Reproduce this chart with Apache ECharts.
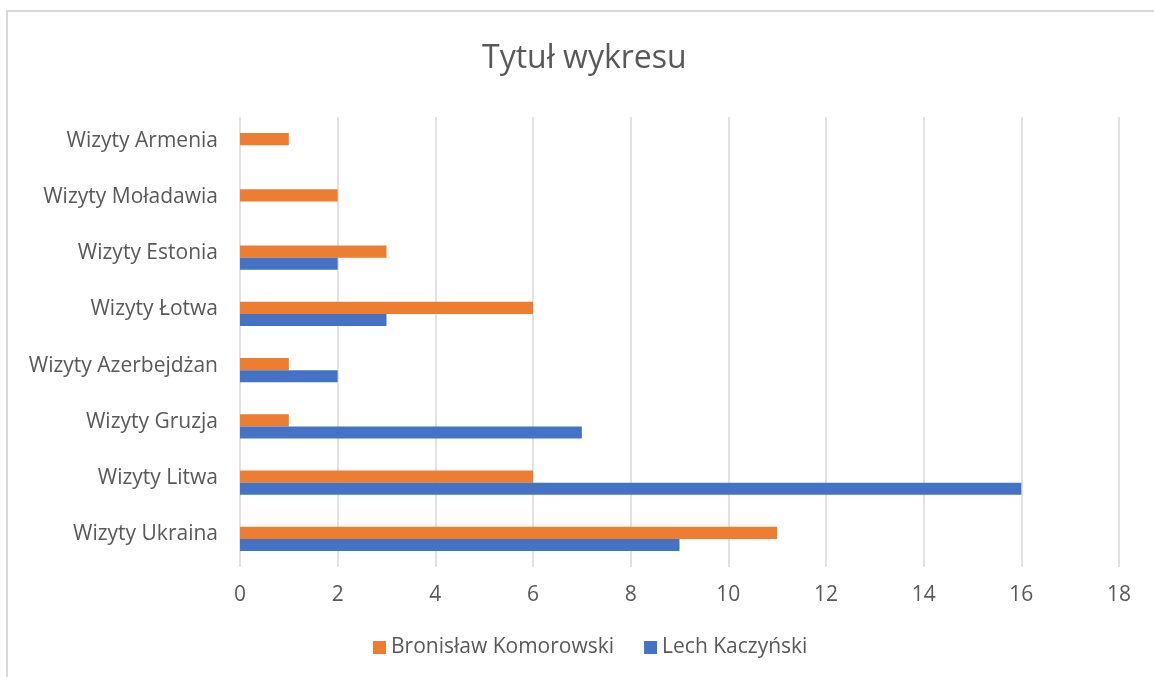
<!DOCTYPE html>
<html>
    <head>
        <meta charset="utf-8">
        <title>Tytuł wykresu</title>
        <script src="https://cdn.jsdelivr.net/npm/echarts@6/dist/echarts.min.js"></script>
        <style>
            body { margin: 0; background: #fff; overflow: hidden; }
            #frame { position: absolute; left: 6px; top: 10px; right: 0; bottom: 0; border-left: 2px solid #d9d9d9; border-top: 2px solid #d9d9d9; }
            #main { position: absolute; left: 0; top: 0; width: 1154px; height: 677px; }
        </style>
    </head>
    <body>
        <div id="frame"></div>
        <div id="main"></div>

        <script>
            let categories = ['Wizyty Ukraina', 'Wizyty Litwa', 'Wizyty Gruzja', 'Wizyty Azerbejdżan',
                'Wizyty Łotwa', 'Wizyty Estonia', 'Wizyty Moładawia', 'Wizyty Armenia'];
            let kaczynski = [9, 16, 7, 2, 3, 2, 0, 0];
            let komorowski = [11, 6, 1, 1, 6, 3, 2, 1];
            let xTicks = [0, 18, 2];

            let font = '"Open Sans", "Noto Sans", sans-serif';
            var option = {
                animation: false,
                textStyle: { fontFamily: font },
                title: {
                    text: 'Tytuł wykresu',
                    left: 477,
                    top: 38,
                    textStyle: { fontSize: 32, fontWeight: 'normal', color: '#595959', fontFamily: font }
                },
                legend: {
                    bottom: 14,
                    left: 368,
                    itemWidth: 13,
                    itemHeight: 13,
                    itemGap: 30,
                    icon: 'rect',
                    data: ['Bronisław Komorowski', 'Lech Kaczyński'],
                    textStyle: { fontSize: 21, color: '#595959', fontFamily: font }
                },
                grid: {
                    left: 240,
                    right: 35,
                    top: 117,
                    bottom: 110
                },
                xAxis: {
                    type: 'value',
                    min: xTicks[0],
                    max: xTicks[1],
                    interval: xTicks[2],
                    axisLine: { show: false },
                    axisTick: { show: false },
                    splitLine: { lineStyle: { color: '#d9d9d9', width: 1.5 } },
                    axisLabel: { fontSize: 21, color: '#595959', margin: 18, fontFamily: font }
                },
                yAxis: {
                    type: 'category',
                    data: categories,
                    axisLine: { show: false },
                    axisTick: { show: false },
                    axisLabel: {
                        margin: 22,
                        formatter: '{a|{value}}',
                        rich: {
                            a: { fontSize: 21, color: '#595959', fontFamily: font, padding: [0, 0, 9, 0] }
                        }
                    }
                },
                series: [
                    {
                        name: 'Bronisław Komorowski',
                        type: 'bar',
                        data: komorowski,
                        itemStyle: { color: '#ed7d31' },
                        barGap: '0%',
                        barCategoryGap: '57%'
                    },
                    {
                        name: 'Lech Kaczyński',
                        type: 'bar',
                        data: kaczynski,
                        itemStyle: { color: '#4472c4' },
                        barGap: '0%',
                        barCategoryGap: '57%'
                    }
                ]
            };
            let chart = echarts.init(document.getElementById('main'));
            chart.setOption(option);
        </script>
    </body>
</html>
